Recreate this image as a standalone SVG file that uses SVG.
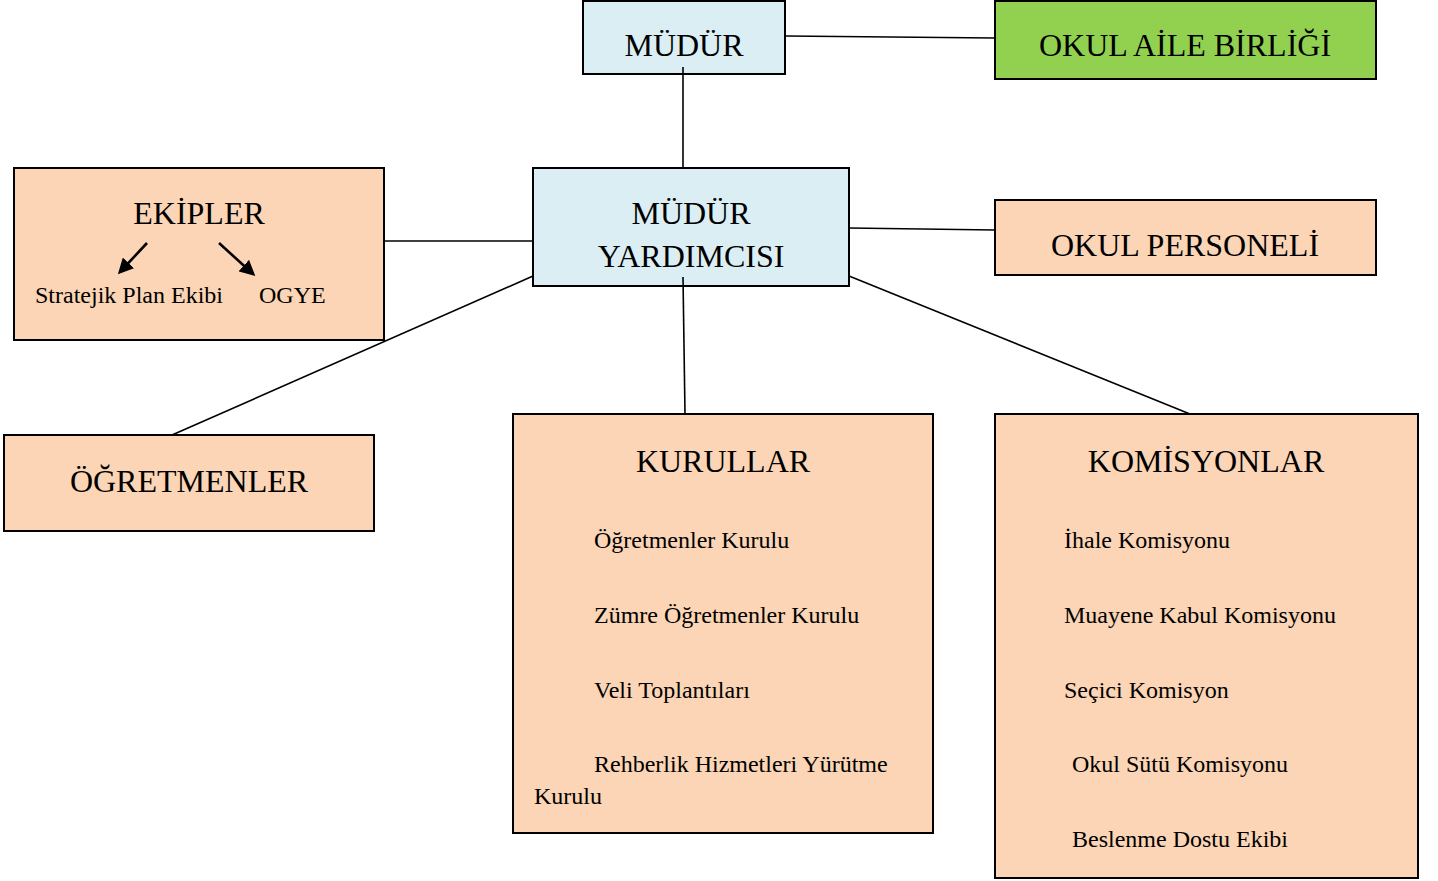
<svg xmlns="http://www.w3.org/2000/svg" width="1438" height="881" viewBox="0 0 1438 881">
<style>
.box{stroke:#000;stroke-width:2}
.blue{fill:#dbeef4}
.peach{fill:#fbd5b5}
.green{fill:#92d050}
.t{fill:#000}
.big{font-size:32px}
.sm{font-size:24px}
.c{text-anchor:middle}
.conn{stroke:#000;stroke-width:1.6;fill:none}
.arr{stroke:#000;stroke-width:2.6;fill:none}
</style>
<defs>
<marker id="ah" viewBox="0 0 10 10" refX="8" refY="5" markerWidth="6" markerHeight="6" orient="auto" markerUnits="strokeWidth">
<path d="M0,0 L10,5 L0,10 z" fill="#000"/>
</marker>
</defs>
<rect width="1438" height="881" fill="#fff"/>
<g font-family="'Liberation Serif', 'Times New Roman', Times, serif">
<g id="n-mudur">
<rect class="box blue" x="583" y="1" width="202" height="73"/>
<text class="t big c" x="684" y="56">MÜDÜR</text>
</g>
<g id="n-okul-aile">
<rect class="box green" x="995" y="1" width="381" height="78"/>
<text class="t big c" x="1185" y="56">OKUL AİLE BİRLİĞİ</text>
</g>
<g id="n-mudur-yardimcisi">
<rect class="box blue" x="533" y="168" width="316" height="118"/>
<text class="t big c" x="691" y="224">MÜDÜR</text>
<text class="t big c" x="691" y="267">YARDIMCISI</text>
</g>
<g id="n-ekipler">
<rect class="box peach" x="14" y="168" width="370" height="172"/>
<text class="t big c" x="199" y="224">EKİPLER</text>
<line class="arr" x1="147" y1="243" x2="120" y2="272" marker-end="url(#ah)"/>
<line class="arr" x1="219" y1="243" x2="253" y2="274" marker-end="url(#ah)"/>
<text class="t sm" x="35" y="303">Stratejik Plan Ekibi</text>
<text class="t sm" x="259" y="303">OGYE</text>
</g>
<g id="n-okul-personeli">
<rect class="box peach" x="995" y="200" width="381" height="75"/>
<text class="t big c" x="1185" y="256">OKUL PERSONELİ</text>
</g>
<g id="n-ogretmenler">
<rect class="box peach" x="4" y="435" width="370" height="96"/>
<text class="t big c" x="189" y="492">ÖĞRETMENLER</text>
</g>
<g id="n-kurullar">
<rect class="box peach" x="513" y="414" width="420" height="419"/>
<text class="t big c" x="723" y="472">KURULLAR</text>
<text class="t sm" x="594" y="548">Öğretmenler Kurulu</text>
<text class="t sm" x="594" y="623">Zümre Öğretmenler Kurulu</text>
<text class="t sm" x="594" y="698">Veli Toplantıları</text>
<text class="t sm" x="594" y="772">Rehberlik Hizmetleri Yürütme</text>
<text class="t sm" x="534" y="804">Kurulu</text>
</g>
<g id="n-komisyonlar">
<rect class="box peach" x="995" y="414" width="423" height="464"/>
<text class="t big c" x="1206" y="472">KOMİSYONLAR</text>
<text class="t sm" x="1064" y="548">İhale Komisyonu</text>
<text class="t sm" x="1064" y="623">Muayene Kabul Komisyonu</text>
<text class="t sm" x="1064" y="698">Seçici Komisyon</text>
<text class="t sm" x="1072" y="772">Okul Sütü Komisyonu</text>
<text class="t sm" x="1072" y="847">Beslenme Dostu Ekibi</text>
</g>
</g>
<g id="connectors">
<line class="conn" x1="786" y1="36" x2="995" y2="38"/>
<line class="conn" x1="683" y1="67" x2="683" y2="168"/>
<line class="conn" x1="384" y1="241" x2="533" y2="241"/>
<line class="conn" x1="849" y1="228" x2="995" y2="230"/>
<line class="conn" x1="533" y1="276" x2="172" y2="435"/>
<line class="conn" x1="683" y1="277" x2="685" y2="414"/>
<line class="conn" x1="849" y1="276" x2="1190" y2="414"/>
</g>
</svg>
